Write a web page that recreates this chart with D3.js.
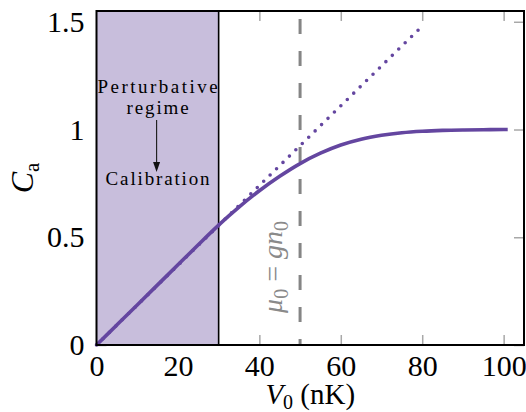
<!DOCTYPE html>
<html>
<head>
<meta charset="utf-8">
<script src="https://cdn.jsdelivr.net/npm/d3@7"></script>
<style>
  html, body { margin: 0; padding: 0; background: #fff; }
  svg { display: block; }
</style>
</head>
<body>
<svg id="chart" width="526" height="412"></svg>
<script>
// ---- data ----
const solidV = [0, 5, 10, 15, 20, 25, 30, 32.5, 35, 40, 45, 50, 55, 60, 65, 70, 75, 80, 85, 90, 95, 100, 101];
const solidC = [0, 0.093, 0.186, 0.279, 0.372, 0.465, 0.556, 0.599, 0.64, 0.716, 0.783, 0.842, 0.89, 0.928, 0.955, 0.973, 0.985, 0.992, 0.996, 0.998, 0.999, 1.0, 1.0];
const linearV = [0, 80];
const linearC = [0, 1.48];
const regionV = [0, 30];
const mu0V = 50;
const xTicks = [0, 20, 40, 60, 80, 100];
const xTickLabels = ["0", "20", "40", "60", "80", "100"];
const yTicks = [0, 0.5, 1, 1.5];
const yTickLabels = ["0", "0.5", "1", "1.5"];

// ---- layout ----
const FONT = '"Liberation Serif"';
const mLeft = 96.5, mRight = 524, mTop = 11, mBottom = 345;
const purple = "#6446a0";
const shade = "#c8bedc";

const svg = d3.select("#chart");
const x = d3.scaleLinear().domain([0, 105]).range([mLeft, mRight]);
const y = d3.scaleLinear().domain([0, 1.55]).range([mBottom, mTop]);

const tickColor = "#a8a8a8";
function styleAxis(g, showLabels) {
  g.attr("font-family", null).attr("font-size", null);
  g.select(".domain").remove();
  g.selectAll(".tick line").attr("stroke", tickColor).attr("stroke-width", 1.5);
  g.selectAll(".tick text")
    .attr("fill", "#000")
    .style("font-family", FONT)
    .style("font-size", "30px");
  if (!showLabels) g.selectAll(".tick text").remove();
}
svg.append("g").attr("transform", `translate(0,${mBottom})`)
  .call(d3.axisBottom(x).tickValues(xTicks).tickSize(-10).tickPadding(10)
    .tickFormat((d, i) => xTickLabels[i]))
  .call(g => styleAxis(g, true));
svg.append("g").attr("transform", `translate(0,${mTop})`)
  .call(d3.axisTop(x).tickValues(xTicks).tickSize(-10))
  .call(g => styleAxis(g, false));
svg.append("g").attr("transform", `translate(${mLeft},0)`)
  .call(d3.axisLeft(y).tickValues(yTicks).tickSize(-10).tickPadding(12)
    .tickFormat((d, i) => yTickLabels[i]))
  .call(g => styleAxis(g, true));
svg.append("g").attr("transform", `translate(${mRight},0)`)
  .call(d3.axisRight(y).tickValues(yTicks).tickSize(-10))
  .call(g => styleAxis(g, false));

// shaded perturbative region
svg.append("rect")
  .attr("x", x(regionV[0])).attr("y", mTop)
  .attr("width", x(regionV[1]) - x(regionV[0])).attr("height", mBottom - mTop)
  .attr("fill", shade);
svg.append("line")
  .attr("x1", x(regionV[1])).attr("x2", x(regionV[1]))
  .attr("y1", mTop).attr("y2", mBottom)
  .attr("stroke", "#000").attr("stroke-width", 1.6);

// dashed mu0 line
svg.append("line")
  .attr("x1", x(mu0V)).attr("x2", x(mu0V))
  .attr("y1", mTop).attr("y2", mBottom)
  .attr("stroke", "#858585").attr("stroke-width", 3)
  .attr("stroke-dasharray", "15 17").attr("stroke-dashoffset", 24);

// dotted linear line
const linData = linearV.map((v, i) => [v, linearC[i]]);
svg.append("path")
  .datum(linData)
  .attr("d", d3.line().x(d => x(d[0])).y(d => y(d[1])))
  .attr("fill", "none").attr("stroke", purple)
  .attr("stroke-width", 3.6).attr("stroke-linecap", "round")
  .attr("stroke-dasharray", "0 9");

// solid curve
const solData = solidV.map((v, i) => [v, solidC[i]]);
svg.append("path")
  .datum(solData)
  .attr("d", d3.line().curve(d3.curveMonotoneX).x(d => x(d[0])).y(d => y(d[1])))
  .attr("fill", "none").attr("stroke", purple)
  .attr("stroke-width", 3.6);

// frame
svg.append("rect")
  .attr("x", mLeft).attr("y", mTop)
  .attr("width", mRight - mLeft).attr("height", mBottom - mTop)
  .attr("fill", "none").attr("stroke", "#000").attr("stroke-width", 2);

// annotations inside region
const cx = (x(regionV[0]) + x(regionV[1])) / 2;
function note(txt, yy, len) {
  svg.append("text").attr("x", cx).attr("y", yy).attr("text-anchor", "middle")
    .style("font-family", FONT).style("font-size", "19px")
    .attr("textLength", len).attr("lengthAdjust", "spacing")
    .text(txt);
}
note("Perturbative", 93, 120);
note("regime", 114, 62);
note("Calibration", 185, 104);
svg.append("line").attr("x1", cx - 1).attr("x2", cx - 1).attr("y1", 120).attr("y2", 164)
  .attr("stroke", "#222").attr("stroke-width", 1.2);
svg.append("path")
  .attr("d", `M${cx - 1 - 3.5},162 L${cx - 1 + 3.5},162 L${cx - 1},172 Z`)
  .attr("fill", "#111");

// mu0 label (rotated)
const muT = svg.append("text")
  .attr("transform", `translate(${x(mu0V) - 18},267) rotate(-90)`)
  .attr("text-anchor", "middle").attr("fill", "#8a8a8a")
  .style("font-family", FONT).style("font-size", "28px");
muT.append("tspan").style("font-family", FONT).style("font-style", "italic").text("μ");
muT.append("tspan").style("font-family", FONT).attr("dy", 6).style("font-size", "20px").text("0");
muT.append("tspan").style("font-family", FONT).attr("dy", -6).text(" = ");
muT.append("tspan").style("font-family", FONT).style("font-style", "italic").text("gn");
muT.append("tspan").style("font-family", FONT).attr("dy", 6).style("font-size", "20px").text("0");

// axis titles
const xt = svg.append("text").attr("x", (mLeft + mRight) / 2).attr("y", 404)
  .attr("text-anchor", "middle").style("font-family", FONT).style("font-size", "29px");
xt.append("tspan").style("font-family", FONT).style("font-style", "italic").text("V");
xt.append("tspan").style("font-family", FONT).attr("dy", 5).style("font-size", "20px").text("0");
xt.append("tspan").style("font-family", FONT).attr("dy", -5).text(" (nK)");

const yt = svg.append("text")
  .attr("transform", `translate(33,178) rotate(-90)`)
  .attr("text-anchor", "middle").style("font-family", FONT).style("font-size", "32px");
yt.append("tspan").style("font-family", FONT).style("font-style", "italic").text("C");
yt.append("tspan").style("font-family", FONT).attr("dy", 6).style("font-size", "21px").text("a");
</script>
</body>
</html>
